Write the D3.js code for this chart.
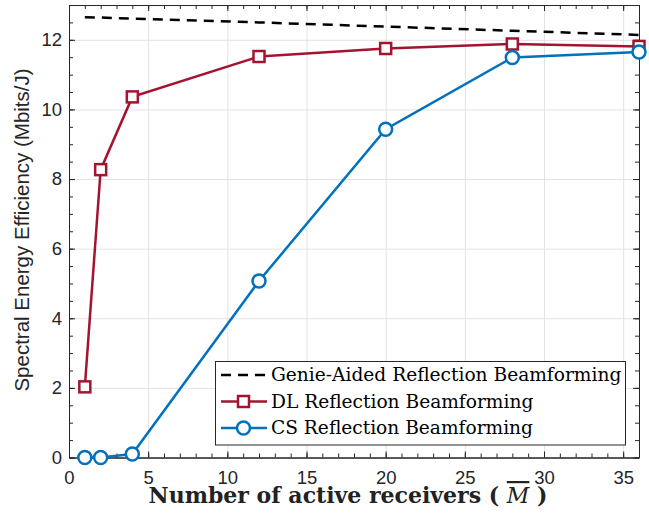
<!DOCTYPE html>
<html>
<head>
<meta charset="utf-8">
<script src="https://cdn.jsdelivr.net/npm/d3@7"></script>
<style>
body { margin: 0; background: #fff; }
</style>
</head>
<body>
<script>
// data
var receivers = [1, 2, 4, 12, 20, 28, 36];
var genieValues = [12.65, 12.64, 12.61, 12.5, 12.38, 12.26, 12.14];
var dlValues = [2.03, 8.27, 10.36, 11.52, 11.75, 11.88, 11.81];
var csValues = [0, 0, 0.1, 5.07, 9.43, 11.49, 11.65];
var xTicks = [0, 5, 10, 15, 20, 25, 30, 35];
var yTicks = [0, 2, 4, 6, 8, 10, 12];
var legendLabels = ["Genie-Aided Reflection Beamforming", "DL Reflection Beamforming", "CS Reflection Beamforming"];

var width = 649;
var height = 521;
var pLeft = 69, pRight = 639, pTop = 5, pBottom = 457.5;
var red = "#A2142F", blue = "#0072BD", axisColor = "#262626";

var svg = d3.select("body").append("svg").attr("width", width).attr("height", height);

var xScale = d3.scaleLinear().domain([0, 36]).range([pLeft, pRight]);
var yScale = d3.scaleLinear().domain([0, 13]).range([pBottom, pTop]);

// grid
svg.append("g")
    .attr("transform", "translate(0," + pBottom + ")")
    .call(d3.axisBottom(xScale).tickValues(xTicks).tickSize(-(pBottom - pTop)).tickFormat(""))
    .call(function(g) { g.select(".domain").remove(); })
    .selectAll("line").attr("stroke", "#e3e3e3").attr("stroke-width", 1);
svg.append("g")
    .attr("transform", "translate(" + pLeft + ",0)")
    .call(d3.axisLeft(yScale).tickValues(yTicks).tickSize(-(pRight - pLeft)).tickFormat(""))
    .call(function(g) { g.select(".domain").remove(); })
    .selectAll("line").attr("stroke", "#e3e3e3").attr("stroke-width", 1);

// axes with inward ticks
function styleAxis(g) {
    g.select(".domain").attr("stroke", axisColor).attr("stroke-width", 1);
    g.selectAll(".tick line").attr("stroke", axisColor).attr("stroke-width", 1);
    g.selectAll("text").attr("fill", axisColor).style("font-family", "Liberation Sans, Arial, sans-serif").style("font-size", "18.5px");
}
var xMinor = d3.range(0, 37, 1);
var yMinor = d3.range(0, 13.01, 0.5);

svg.append("g").attr("transform", "translate(0," + pBottom + ")")
    .call(d3.axisBottom(xScale).tickValues(xMinor).tickSize(-4).tickFormat("").tickSizeOuter(0))
    .call(styleAxis);
svg.append("g").attr("transform", "translate(0," + pBottom + ")")
    .call(d3.axisBottom(xScale).tickValues(xTicks).tickSize(-6).tickPadding(13.5).tickSizeOuter(0))
    .call(styleAxis);
svg.append("g").attr("transform", "translate(0," + pTop + ")")
    .call(d3.axisTop(xScale).tickValues(xMinor).tickSize(-4).tickFormat("").tickSizeOuter(0))
    .call(styleAxis);
svg.append("g").attr("transform", "translate(0," + pTop + ")")
    .call(d3.axisTop(xScale).tickValues(xTicks).tickSize(-6).tickFormat("").tickSizeOuter(0))
    .call(styleAxis);
svg.append("g").attr("transform", "translate(" + pLeft + ",0)")
    .call(d3.axisLeft(yScale).tickValues(yMinor).tickSize(-4).tickFormat("").tickSizeOuter(0))
    .call(styleAxis);
svg.append("g").attr("transform", "translate(" + pLeft + ",0)")
    .call(d3.axisLeft(yScale).tickValues(yTicks).tickSize(-6).tickPadding(7).tickSizeOuter(0))
    .call(styleAxis);
svg.append("g").attr("transform", "translate(" + pRight + ",0)")
    .call(d3.axisRight(yScale).tickValues(yMinor).tickSize(-4).tickFormat("").tickSizeOuter(0))
    .call(styleAxis);
svg.append("g").attr("transform", "translate(" + pRight + ",0)")
    .call(d3.axisRight(yScale).tickValues(yTicks).tickSize(-6).tickFormat("").tickSizeOuter(0))
    .call(styleAxis);

// lines
var line = d3.line()
    .x(function(d, i) { return xScale(receivers[i]); })
    .y(function(d) { return yScale(d); });

svg.append("path").datum(genieValues).attr("d", line)
    .attr("fill", "none").attr("stroke", "#000").attr("stroke-width", 2.5)
    .attr("stroke-dasharray", "10,7");
svg.append("path").datum(dlValues).attr("d", line)
    .attr("fill", "none").attr("stroke", red).attr("stroke-width", 2.5);
svg.append("path").datum(csValues).attr("d", line)
    .attr("fill", "none").attr("stroke", blue).attr("stroke-width", 2.5);

svg.append("g").selectAll("rect")
    .data(dlValues)
    .enter()
    .append("rect")
    .attr("x", function(d, i) { return xScale(receivers[i]) - 5.5; })
    .attr("y", function(d) { return yScale(d) - 5.5; })
    .attr("width", 11).attr("height", 11)
    .attr("fill", "#fff").attr("stroke", red).attr("stroke-width", 2.5);

svg.append("g").selectAll("circle")
    .data(csValues)
    .enter()
    .append("circle")
    .attr("cx", function(d, i) { return xScale(receivers[i]); })
    .attr("cy", function(d) { return yScale(d); })
    .attr("r", 6.5)
    .attr("fill", "#fff").attr("stroke", blue).attr("stroke-width", 2.5);

// legend
var lg = svg.append("g");
lg.append("rect").attr("x", 215.5).attr("y", 361.5).attr("width", 410).attr("height", 83.5)
    .attr("fill", "#fff").attr("stroke", axisColor).attr("stroke-width", 1);
var rowY = [375, 401.5, 428];
var styles = [
    { color: "#000", dash: "10,7", marker: null },
    { color: red, dash: null, marker: "square" },
    { color: blue, dash: null, marker: "circle" }
];
legendLabels.forEach(function(label, i) {
    var s = styles[i];
    lg.append("line").attr("x1", 221).attr("x2", 267).attr("y1", rowY[i]).attr("y2", rowY[i])
        .attr("stroke", s.color).attr("stroke-width", 2.5)
        .attr("stroke-dasharray", s.dash);
    if (s.marker === "square") {
        lg.append("rect").attr("x", 243.5 - 5.5).attr("y", rowY[i] - 5.5).attr("width", 11).attr("height", 11)
            .attr("fill", "#fff").attr("stroke", s.color).attr("stroke-width", 2.5);
    } else if (s.marker === "circle") {
        lg.append("circle").attr("cx", 243.5).attr("cy", rowY[i]).attr("r", 6.5)
            .attr("fill", "#fff").attr("stroke", s.color).attr("stroke-width", 2.5);
    }
    lg.append("text").attr("x", 271).attr("y", rowY[i] + 6)
        .style("font-family", "DejaVu Serif, serif").style("font-size", "18.6px")
        .attr("fill", "#000")
        .text(label);
});

// axis labels
svg.append("text")
    .attr("transform", "translate(29,230) rotate(-90)")
    .attr("text-anchor", "middle")
    .style("font-family", "Liberation Sans, Arial, sans-serif").style("font-size", "20.5px")
    .attr("fill", axisColor)
    .text("Spectral Energy Efficiency (Mbits/J)");

var xl = svg.append("text")
    .attr("x", 348).attr("y", 503)
    .attr("text-anchor", "middle")
    .style("font-family", "DejaVu Serif, serif").style("font-size", "22px").style("font-weight", "bold")
    .attr("fill", "#222");
xl.append("tspan").text("Number of active receivers ( ");
xl.append("tspan").style("font-weight", "normal").style("font-style", "italic")
    .style("text-decoration", "overline").text("M");
xl.append("tspan").text(" )");
</script>
</body>
</html>
